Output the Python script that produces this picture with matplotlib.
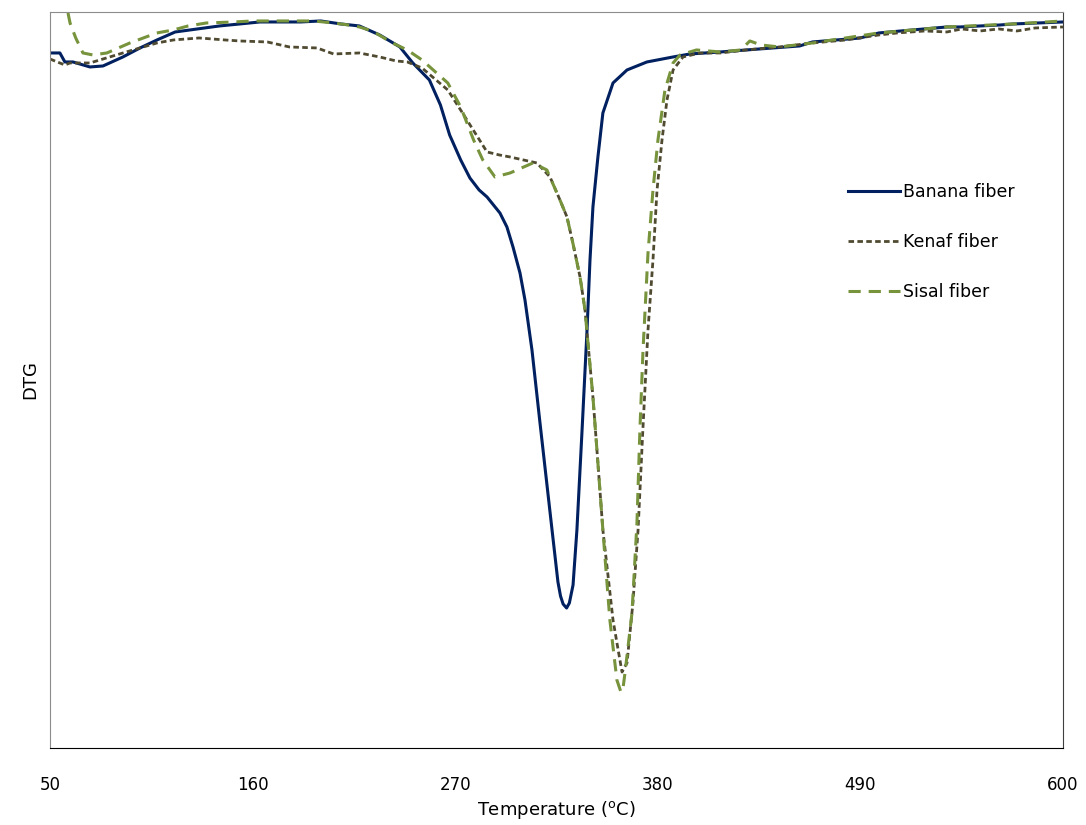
import matplotlib.pyplot as plt

# Datos (DTG en unidades arbitrarias)
banana_t = [50, 55.4, 58.1, 62.5, 71.7, 78.8, 89.6, 98.9, 108.1, 118, 126, 142, 164, 186, 197, 208,
            218, 229, 240, 247, 256, 262, 267, 273, 278, 283, 287.3, 294.3, 298.1, 301.4, 305.2,
            307.9, 311.7, 316, 322.6, 325.8, 327.2, 328.6, 330.5, 332, 334, 336.1, 338.9, 341.6,
            343.2, 344.8, 347.5, 350.2, 355.7, 363.3, 374.1, 388.3, 397.5, 414, 428, 457, 464, 490,
            500, 512, 537, 544, 566, 573, 600]
banana_dtg = [-0.41, -0.41, -0.50, -0.50, -0.55, -0.54, -0.45, -0.36, -0.28, -0.20, -0.18, -0.14,
              -0.10, -0.10, -0.09, -0.12, -0.14, -0.23, -0.35, -0.51, -0.68, -0.93, -1.23, -1.48,
              -1.66, -1.78, -1.85, -2.01, -2.15, -2.35, -2.61, -2.88, -3.38, -4.10, -5.18, -5.70,
              -5.84, -5.92, -5.96, -5.91, -5.73, -5.18, -4.18, -3.18, -2.48, -1.95, -1.45, -1.01,
              -0.71, -0.58, -0.50, -0.45, -0.42, -0.40, -0.38, -0.34, -0.30, -0.26, -0.21, -0.19,
              -0.15, -0.15, -0.13, -0.12, -0.10]

kenaf_t = [50, 54, 58.1, 60.9, 71.7, 89.6, 108.1, 117, 131, 145, 153, 168, 180, 195, 204, 218, 229,
           238, 244, 252, 266, 274, 287.3, 294, 299.8, 314.4, 321.5, 326.9, 330.7, 333.9, 337.8,
           340.5, 342.1, 344.8, 347.5, 350.2, 355.7, 358.5, 360.6, 362, 363.3, 366.5, 369.3, 371.9,
           374.7, 377.4, 379.6, 382.3, 385, 388.3, 393.7, 403, 414, 428, 446, 464, 482, 500, 510,
           525, 537, 545, 555, 565, 575, 585, 600]
kenaf_dtg = [-0.47, -0.50, -0.53, -0.51, -0.51, -0.41, -0.31, -0.28, -0.26, -0.28, -0.29, -0.30,
             -0.35, -0.36, -0.42, -0.41, -0.45, -0.49, -0.50, -0.56, -0.78, -1.01, -1.40, -1.43,
             -1.45, -1.51, -1.65, -1.88, -2.05, -2.31, -2.65, -2.98, -3.31, -3.85, -4.51, -5.18,
             -6.08, -6.38, -6.60, -6.55, -6.51, -5.91, -5.18, -4.18, -3.18, -2.48, -1.78, -1.28,
             -0.88, -0.58, -0.45, -0.41, -0.41, -0.38, -0.35, -0.31, -0.28, -0.23, -0.21, -0.19,
             -0.20, -0.17, -0.19, -0.17, -0.19, -0.16, -0.15]

sisal_t = [59.8, 60.9, 64, 67.9, 73.3, 80.9, 93.4, 108, 117, 125, 135, 150, 160, 175, 193, 204, 212,
           218, 225, 236, 244, 252, 266, 273, 280, 285, 291.6, 299.8, 312.2, 319.8, 326.9, 330.7,
           333.9, 337.8, 340.5, 342.1, 344.8, 347.5, 350.2, 354, 357.8, 360, 361, 362.2, 366,
           368.7, 370.3, 372, 374.7, 377.4, 380.1, 383.9, 388.3, 392.1, 401, 414, 425, 430, 436,
           446, 464, 500, 537, 573, 600]
sisal_dtg = [-0.01, -0.11, -0.26, -0.41, -0.43, -0.41, -0.31, -0.21, -0.18, -0.14, -0.11, -0.10,
             -0.09, -0.09, -0.09, -0.11, -0.13, -0.15, -0.19, -0.31, -0.38, -0.48, -0.71, -0.95,
             -1.28, -1.48, -1.65, -1.61, -1.51, -1.58, -1.88, -2.05, -2.31, -2.65, -2.98, -3.31,
             -3.85, -4.51, -5.18, -6.08, -6.68, -6.80, -6.78, -6.61, -6.01, -5.11, -4.18, -3.38,
             -2.41, -1.78, -1.28, -0.78, -0.51, -0.43, -0.38, -0.40, -0.38, -0.29, -0.33, -0.35,
             -0.31, -0.21, -0.15, -0.12, -0.09]

x_ticks = [50, 160, 270, 380, 490, 600]

fig = plt.figure(figsize=(10.86, 8.25), dpi=100)
ax = fig.add_axes([0.046, 0.0933, 0.9328, 0.8922])

ax.plot(banana_t, banana_dtg, color='#002060', lw=2.2, label='Banana fiber')
ax.plot(kenaf_t, kenaf_dtg, color='#4f4a30', lw=2.0, dashes=(2.0, 1.2), label='Kenaf fiber')
ax.plot(sisal_t, sisal_dtg, color='#77933c', lw=2.2, dashes=(4.0, 2.6), label='Sisal fiber')

ax.set_xlim(50, 600)
ax.set_ylim(-7.36, 0)
ax.set_xticks(x_ticks)
ax.set_xticklabels([str(t) for t in x_ticks], fontsize=12)
ax.set_yticks([])
ax.tick_params(axis='x', length=0, pad=20)

ax.set_xlabel('Temperature ($\\mathregular{^o}$C)', fontsize=13, labelpad=4)
ax.set_ylabel('DTG', fontsize=13, labelpad=8)

ax.spines['top'].set_color('#8c8c8c')
ax.spines['left'].set_color('#8c8c8c')
ax.spines['bottom'].set_color('#000000')
ax.spines['right'].set_color('#404040')

ax.legend(loc='upper left', bbox_to_anchor=(0.788, 0.767), frameon=False, fontsize=12.5,
          handlelength=3.0, handletextpad=0.15, labelspacing=1.82, borderpad=0, borderaxespad=0)

plt.savefig('out.png', dpi=100)
